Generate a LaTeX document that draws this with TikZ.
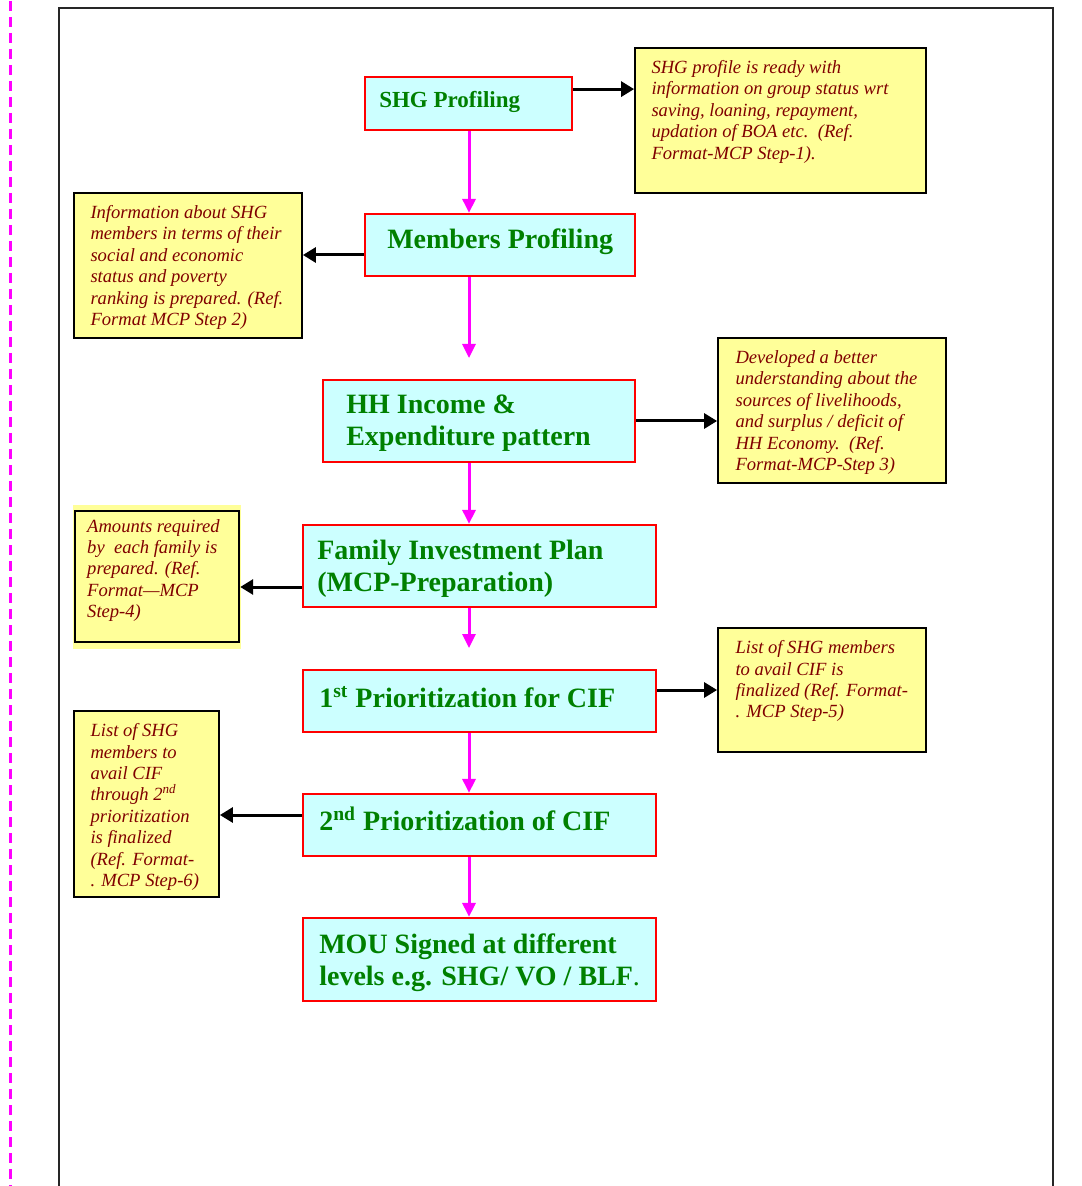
\documentclass[tikz,border=0pt]{standalone}
\usepackage{fontspec}
\setmainfont{Liberation Serif}
\usetikzlibrary{arrows.meta,positioning}
\definecolor{boxcyan}{HTML}{CCFFFF}
\definecolor{noteyellow}{HTML}{FFFF99}
\definecolor{textgreen}{HTML}{008000}
\definecolor{textred}{HTML}{800000}
\definecolor{flowmag}{HTML}{FF00FF}
\tikzset{
  stepbox/.style={draw=red, fill=boxcyan, line width=1.1pt, inner sep=0pt},
  steptext/.style={text=textgreen, font=\fontsize{14}{16}\selectfont\bfseries, align=left, inner sep=0pt, anchor=west},
  notebox/.style={draw=black, fill=noteyellow, line width=0.9pt, inner sep=0pt},
  notetext/.style={text=textred, font=\fontsize{9.3}{10.7}\selectfont\itshape, align=left, inner sep=0pt, anchor=north west},
  flow/.style={draw=flowmag, line width=1.5pt, -{Triangle[length=7pt,width=6.5pt]}},
  link/.style={draw=black, line width=1.5pt, -{Triangle[length=6.5pt,width=7.5pt]}},
  frame/.style={draw=black!85, line width=1pt}
}
\begin{document}
\begin{tikzpicture}[x=0.5pt, y=-0.5pt]
  \useasboundingbox (0,0) rectangle (1081,1186);
  \draw[flowmag, line width=1.5pt, dash pattern=on 5pt off 3pt] (10.5,1) -- (10.5,1186);
  \draw[frame] (59,1186) -- (59,8.5) -- (1053,8.5) -- (1053,1186);

  \node[stepbox, minimum width=103.5pt, minimum height=26.5pt] (shg) at (468.5,103.5) {};
  \node[steptext, font=\fontsize{11.5}{13}\selectfont\bfseries] (shg-t) at ([xshift=7.5pt,yshift=1pt]shg.west) {SHG Profiling};
  \node[stepbox, minimum width=135pt, minimum height=31pt] (members) at (500,245) {};
  \node[steptext] (members-t) at ([xshift=11.5pt,yshift=1.5pt]members.west) {Members Profiling};
  \node[stepbox, minimum width=156pt, minimum height=41pt] (hhincome) at (479,421) {};
  \node[steptext] (hhincome-t) at ([xshift=12pt,yshift=-1pt]hhincome.west) {HH Income \&\\Expenditure pattern};
  \node[stepbox, minimum width=176.5pt, minimum height=41pt] (fip) at (479.5,566) {};
  \node[steptext] (fip-t) at ([xshift=7.5pt,yshift=-1.5pt]fip.west) {Family Investment Plan\\(MCP-Preparation)};
  \node[stepbox, minimum width=176.5pt, minimum height=31pt] (prio1) at (479.5,701) {};
  \node[steptext] (prio1-t) at ([xshift=8.5pt,yshift=2pt]prio1.west) {1\textsuperscript{st} Prioritization for CIF};
  \node[stepbox, minimum width=176.5pt, minimum height=31pt] (prio2) at (479.5,825) {};
  \node[steptext] (prio2-t) at ([xshift=8.5pt,yshift=3pt]prio2.west) {2\textsuperscript{nd} Prioritization of CIF};
  \node[stepbox, minimum width=176.5pt, minimum height=41.5pt] (mou) at (479.5,959.5) {};
  \node[steptext] (mou-t) at ([xshift=8.5pt,yshift=-1.5pt]mou.west) {MOU Signed at different\\levels e.g. SHG/ VO / BLF{\mdseries .}};

  \node[notebox, minimum width=145.5pt, minimum height=72.5pt] (shgnote) at (780.5,120.5) {};
  \node[notetext] (shgnote-t) at ([xshift=8.5pt,yshift=-6.5pt]shgnote.north west) {SHG profile is ready with\\information on group status wrt\\saving, loaning, repayment,\\updation of BOA etc.\ \ (Ref.\\Format-MCP Step-1).};
  \node[notebox, minimum width=114pt, minimum height=72.5pt] (membersnote) at (188,265.5) {};
  \node[notetext] (membersnote-t) at ([xshift=8.5pt,yshift=-6.5pt]membersnote.north west) {Information about SHG\\members in terms of their\\social and economic\\status and poverty\\ranking is prepared. (Ref.\\Format MCP Step 2)};
  \node[notebox, minimum width=114pt, minimum height=72.5pt] (hhnote) at (832,410.5) {};
  \node[notetext] (hhnote-t) at ([xshift=9pt,yshift=-6.5pt]hhnote.north west) {Developed a better\\understanding about the\\sources of livelihoods,\\and surplus / deficit of\\HH Economy.\ \ (Ref.\\Format-MCP-Step 3)};
  \fill[noteyellow] (73,505) rectangle (241,649);
  \node[notebox, line width=1.2pt, minimum width=82pt, minimum height=65.5pt] (fipnote) at (157,576.5) {};
  \node[notetext] (fipnote-t) at ([xshift=6.5pt,yshift=-4.5pt]fipnote.north west) {Amounts required\\by\ \ each family is\\prepared. (Ref.\\Format---MCP\\Step-4)};
  \node[notebox, minimum width=104pt, minimum height=62pt] (prio1note) at (822,690) {};
  \node[notetext] (prio1note-t) at ([xshift=9pt,yshift=-6.5pt]prio1note.north west) {List of SHG members\\to avail CIF is\\finalized (Ref. Format-\\. MCP Step-5)};
  \node[notebox, minimum width=72.5pt, minimum height=93pt] (prio2note) at (146.5,804) {};
  \node[notetext] (prio2note-t) at ([xshift=8.5pt,yshift=-6.5pt]prio2note.north west) {List of SHG\\members to\\avail CIF\\through 2\textsuperscript{nd}\\prioritization\\is finalized\\(Ref. Format-\\. MCP Step-6)};

  \coordinate (spine) at (469,0);
  \coordinate (gap1) at (469,358);
  \coordinate (gap2) at (469,648);
  \draw[flow] (shg.south -| spine) -- (members.north -| spine);
  \draw[flow] (members.south -| spine) -- (gap1);
  \draw[flow] (hhincome.south -| spine) -- (fip.north -| spine);
  \draw[flow] (fip.south -| spine) -- (gap2);
  \draw[flow] (prio1.south -| spine) -- (prio2.north -| spine);
  \draw[flow] (prio2.south -| spine) -- (mou.north -| spine);

  \draw[link] ([yshift=7.2pt]shg.east) -- ([yshift=7.2pt]shg.east -| shgnote.west);
  \draw[link] ([yshift=-5pt]members.west) -- ([yshift=-5pt]members.west -| membersnote.east);
  \draw[link] (hhincome.east) -- (hhincome.east -| hhnote.west);
  \draw[link] ([yshift=-10.5pt]fip.west) -- ([yshift=-10.5pt]fip.west -| fipnote.east);
  \draw[link] ([yshift=5.5pt]prio1.east) -- ([yshift=5.5pt]prio1.east -| prio1note.west);
  \draw[link] ([yshift=5pt]prio2.west) -- ([yshift=5pt]prio2.west -| prio2note.east);
\end{tikzpicture}
\end{document}
